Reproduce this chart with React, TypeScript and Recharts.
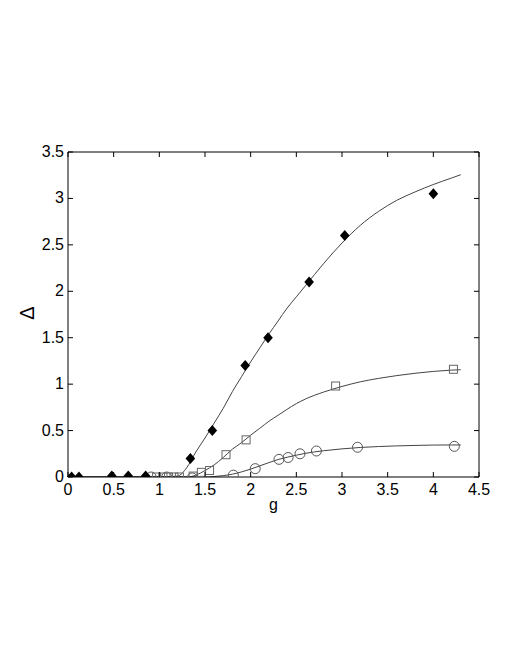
import {
  ComposedChart,
  Line,
  Scatter,
  XAxis,
  YAxis,
} from 'recharts'

// measured points
const diamondX = [0.04, 0.12, 0.48, 0.66, 0.85, 1.34, 1.58, 1.94, 2.19, 2.64, 3.03, 4.0]
const diamondY = [0, 0, 0.01, 0.01, 0.01, 0.2, 0.5, 1.2, 1.5, 2.1, 2.6, 3.05]

const squareX = [0.97, 1.04, 1.1, 1.16, 1.22, 1.37, 1.46, 1.55, 1.73, 1.95, 2.93, 4.22]
const squareY = [0, 0, 0, 0, 0, 0.01, 0.05, 0.07, 0.24, 0.4, 0.98, 1.16]

const circleX = [0.91, 1.08, 1.36, 1.81, 2.05, 2.31, 2.41, 2.54, 2.72, 3.17, 4.23]
const circleY = [0, 0, -0.01, 0.02, 0.09, 0.19, 0.21, 0.25, 0.28, 0.32, 0.33]

// fitted curves
const fitX = [0, 1.0, 1.2, 1.3, 1.4, 1.5, 1.6, 1.7, 1.8, 1.9, 2.0, 2.1, 2.2, 2.3, 2.4, 2.5, 2.6, 2.8, 3.0, 3.2, 3.4, 3.6, 3.8, 4.0, 4.2, 4.3]
const fitDiamond = [0, 0, 0.01, 0.1, 0.27, 0.42, 0.58, 0.74, 0.92, 1.08, 1.24, 1.39, 1.54, 1.68, 1.82, 1.94, 2.06, 2.3, 2.52, 2.71, 2.86, 2.98, 3.07, 3.15, 3.22, 3.255]
const fitSquare = [0, 0, 0, 0, 0.02, 0.07, 0.13, 0.21, 0.3, 0.37, 0.45, 0.525, 0.6, 0.665, 0.73, 0.79, 0.84, 0.915, 0.975, 1.025, 1.062, 1.092, 1.117, 1.137, 1.151, 1.155]
const fitCircle = [0, 0, 0, 0, 0, 0, 0.005, 0.015, 0.03, 0.055, 0.085, 0.12, 0.155, 0.188, 0.213, 0.235, 0.255, 0.283, 0.303, 0.318, 0.328, 0.335, 0.34, 0.344, 0.345, 0.345]

const xTicks = [0, 0.5, 1, 1.5, 2, 2.5, 3, 3.5, 4, 4.5]
const yTicks = [0, 0.5, 1, 1.5, 2, 2.5, 3, 3.5]

const pts = (xs: number[], ys: number[]) => xs.map((x, i) => ({ x, y: ys[i] }))

const font = 'Arial, "Liberation Sans", sans-serif'

const LeftTick = ({ x, y, payload }: any) => (
  <g>
    <line x1={x} y1={y} x2={x + 5} y2={y} stroke="#000" />
    <text x={x - 4} y={y} dy={5} textAnchor="end" fontSize={16} fontFamily={font} fill="#000">
      {payload.value}
    </text>
  </g>
)
const RightTick = ({ x, y }: any) => <line x1={x} y1={y} x2={x - 5} y2={y} stroke="#000" />
const BottomTick = ({ x, y, payload }: any) => (
  <g>
    <line x1={x} y1={y} x2={x} y2={y - 5} stroke="#000" />
    <text x={x} y={y + 18} textAnchor="middle" fontSize={16} fontFamily={font} fill="#000">
      {payload.value}
    </text>
  </g>
)
const TopTick = ({ x, y }: any) => <line x1={x} y1={y} x2={x} y2={y + 5} stroke="#000" />

const DeltaLabel = () => (
  <text x={34} y={313} transform="rotate(-90, 34, 313)" textAnchor="middle" fontSize={20} fontFamily={font} fill="#000">
    Δ
  </text>
)

const Diamond = ({ cx, cy }: any) => (
  <path d={`M${cx},${cy - 5.5} L${cx + 4.8},${cy} L${cx},${cy + 5.5} L${cx - 4.8},${cy} Z`} fill="#000" />
)
const Square = ({ cx, cy }: any) => (
  <rect x={cx - 4} y={cy - 4} width={8} height={8} fill="none" stroke="#666" />
)
const Circle = ({ cx, cy }: any) => <circle cx={cx} cy={cy} r={5} fill="none" stroke="#555" />

export default function App() {
  return (
    <div style={{ position: 'absolute', left: 0, top: 0, width: 510, height: 660, background: '#fff' }}>
      <ComposedChart
        width={510}
        height={660}
        margin={{ top: 151, right: 30, bottom: 0, left: 0 }}
      >
        <XAxis
          dataKey="x"
          type="number"
          domain={[0, 4.5]}
          ticks={xTicks}
          height={183}
          stroke="#000"
          tickLine={false}
          tickSize={0}
          tickMargin={0}
          tick={<BottomTick />}
          label={{ value: 'g', position: 'insideTop', offset: 22, fontSize: 16, fontFamily: font, fill: '#000' }}
        />
        <XAxis
          xAxisId="top"
          dataKey="x"
          orientation="top"
          type="number"
          domain={[0, 4.5]}
          ticks={xTicks}
          height={1}
          stroke="#000"
          tickLine={false}
          tickSize={0}
          tickMargin={0}
          tick={<TopTick />}
        />
        <YAxis
          type="number"
          domain={[0, 3.5]}
          ticks={yTicks}
          width={68}
          stroke="#000"
          tickLine={false}
          tickSize={0}
          tickMargin={0}
          tick={<LeftTick />}
          allowDataOverflow
          label={<DeltaLabel />}
        />
        <YAxis
          yAxisId="right"
          orientation="right"
          type="number"
          domain={[0, 3.5]}
          ticks={yTicks}
          width={1}
          stroke="#000"
          tickLine={false}
          tickSize={0}
          tickMargin={0}
          tick={<RightTick />}
          allowDataOverflow
        />
        {/* this one sits on the mirror axes (same domains) so the box gets drawn */}
        <Line xAxisId="top" yAxisId="right" data={pts(fitX, fitDiamond)} dataKey="y" type="monotone" stroke="#444" strokeWidth={1} dot={false} isAnimationActive={false} />
        <Line data={pts(fitX, fitSquare)} dataKey="y" type="monotone" stroke="#444" strokeWidth={1} dot={false} isAnimationActive={false} />
        <Line data={pts(fitX, fitCircle)} dataKey="y" type="monotone" stroke="#444" strokeWidth={1} dot={false} isAnimationActive={false} />
        <Scatter data={pts(circleX, circleY)} dataKey="y" shape={<Circle />} isAnimationActive={false} />
        <Scatter data={pts(squareX, squareY)} dataKey="y" shape={<Square />} isAnimationActive={false} />
        <Scatter data={pts(diamondX, diamondY)} dataKey="y" shape={<Diamond />} isAnimationActive={false} />
      </ComposedChart>
    </div>
  )
}
